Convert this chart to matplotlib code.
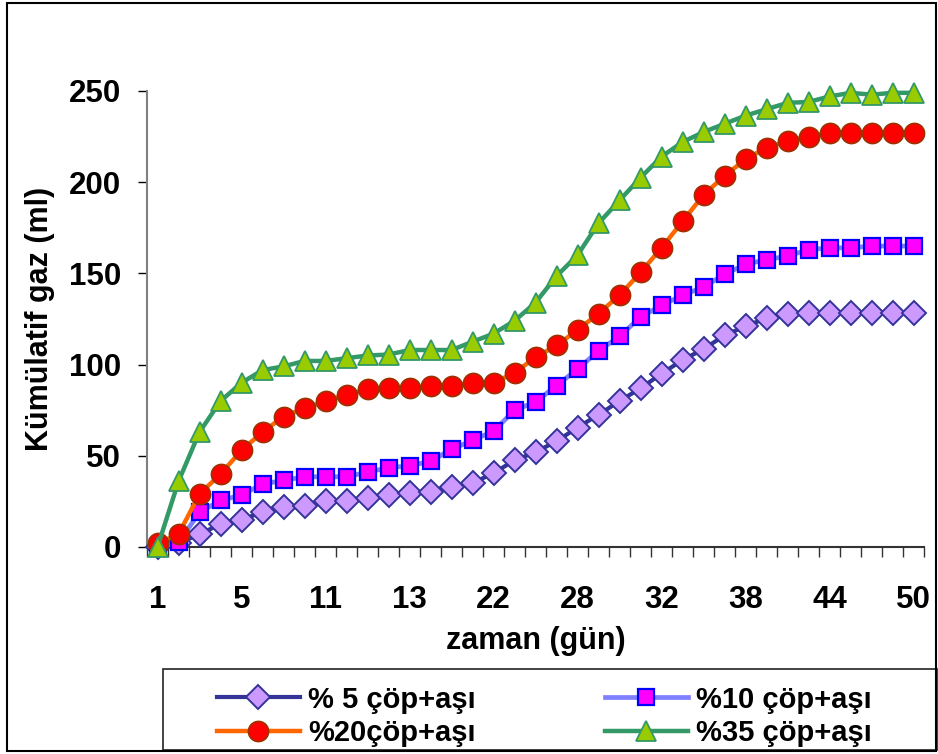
import matplotlib
matplotlib.use('Agg')
import matplotlib.pyplot as plt
import numpy as np
from matplotlib.patches import Rectangle

# ---- data ----
x_tick_labels = ['1', '5', '11', '13', '22', '28', '32', '38', '44', '50']

p5 = [0, 2, 7, 12.5, 15, 19, 22, 22.5, 25, 25, 27, 28.5, 29.5, 30, 33, 35, 40.5,
      47.5, 52, 58, 65.5, 72.5, 80, 87, 95, 102.5, 108.5, 116, 121, 125.5, 127.5,
      128.5, 128.5, 128.5, 128.5, 128.5, 128.5]
p10 = [0, 2.5, 19, 25.5, 28.5, 34.5, 36.5, 38.5, 38.5, 38.5, 41, 43.5, 44.5, 47,
       53.5, 58.5, 63.5, 75, 79.5, 88.5, 97.5, 107.5, 115.5, 126, 132.5, 138,
       142.5, 149.5, 155, 157.5, 159.5, 163, 164, 164, 165, 165, 165]
p20 = [2, 7, 29, 40, 53, 63, 71.5, 76, 80, 83.5, 86.5, 87, 87, 88.5, 88.5, 90, 90,
       95.5, 104, 110.5, 119, 128, 138, 150.5, 164, 178.5, 193, 203.5, 212.5, 219,
       222.5, 225, 227, 227, 227, 227, 227]
p35 = [0, 36, 63, 80, 90, 97, 99, 102, 102, 103.5, 105, 105.5, 108, 108, 108,
       112.5, 117, 124, 134, 148.5, 160, 177.5, 190, 202.5, 214, 222, 227.5, 232,
       236.5, 240, 243.5, 244, 247, 249, 248, 249, 249]

series_labels = ['% 5 çöp+aşı', '%10 çöp+aşı', '%20çöp+aşı', '%35 çöp+aşı']
y_ticks = [0, 50, 100, 150, 200, 250]

W, H = 938, 754
plt.rcParams['font.family'] = ['Liberation Sans', 'DejaVu Sans']
plt.rcParams['font.weight'] = 'bold'

fig = plt.figure(figsize=(W / 100, H / 100), dpi=100)
ax = fig.add_axes([147 / W, 207 / H, 777 / W, 456 / H])

x = np.arange(len(p5))

l5, = ax.plot(x, p5, color='#333399', lw=3, marker='D', ms=12,
              mfc='#CC99FF', mec='#333399', mew=1.4, clip_on=False, zorder=3)
l10, = ax.plot(x, p10, color='#8080FF', lw=3.4, marker='s', ms=11.5,
               mfc='#FF00FF', mec='#0000FF', mew=1.6, clip_on=False, zorder=4)
l20, = ax.plot(x, p20, color='#FF6600', lw=3.2, marker='o', ms=14.5,
               mfc='#FF0000', mec='#993300', mew=1.2, clip_on=False, zorder=5)
l35, = ax.plot(x, p35, color='#339966', lw=3.2, marker='^', ms=15,
               mfc='#99CC00', mec='#339966', mew=1.3, clip_on=False, zorder=6)

ax.set_xlim(-0.5, len(p5) - 0.5)
ax.set_ylim(0, 250)

tick_font = dict(weight='bold', size=22.5)
ax.set_yticks(y_ticks)
ax.set_yticklabels([str(v) for v in y_ticks], fontdict=tick_font)
ax.set_xticks(x[::4])
ax.set_xticklabels(x_tick_labels, fontdict=tick_font)
ax.set_xticks(np.arange(-0.5, len(p5), 1.0), minor=True)

ax.tick_params(axis='y', direction='out', length=6.5, width=1, color='black', pad=12)
ax.tick_params(axis='x', which='major', length=0, pad=27)
ax.tick_params(axis='x', which='minor', direction='out', length=7, width=1, color='#333333')

for s in ['top', 'right']:
    ax.spines[s].set_visible(False)
ax.spines['left'].set_color('#808080')
ax.spines['left'].set_linewidth(1.5)
ax.spines['bottom'].set_color('#333333')
ax.spines['bottom'].set_linewidth(1.5)

ax.set_ylabel('Kümülatif gaz (ml)', fontsize=22, fontweight='bold', va='center')
ax.yaxis.set_label_coords(-0.1377, 0.5)
ax.set_xlabel('zaman (gün)', fontsize=22, fontweight='bold', va='center')
ax.xaxis.set_label_coords(0.5, -0.206)

# legend frame and outer border
fig.patches.append(Rectangle((163 / W, 1 - 750 / H), (937 - 163) / W, (750 - 669) / H,
                             transform=fig.transFigure, fill=False,
                             edgecolor='#222222', lw=1.2))
fig.patches.append(Rectangle((7 / W, 1 - 751 / H), (936 - 7) / W, (751 - 3) / H,
                             transform=fig.transFigure, fill=False,
                             edgecolor='black', lw=1.5))

leg_kw = dict(frameon=False, loc='upper left', borderpad=0, handlelength=2.85,
              handletextpad=0.3, labelspacing=0.2, prop=dict(size=21, weight='bold'))
leg1 = fig.legend([l5, l20], [series_labels[0], series_labels[2]],
                  bbox_to_anchor=(202 / W, 1 - 671 / H), **leg_kw)
leg2 = fig.legend([l10, l35], [series_labels[1], series_labels[3]],
                  bbox_to_anchor=(590 / W, 1 - 671 / H), **leg_kw)

fig.savefig('out.png', dpi=100)
